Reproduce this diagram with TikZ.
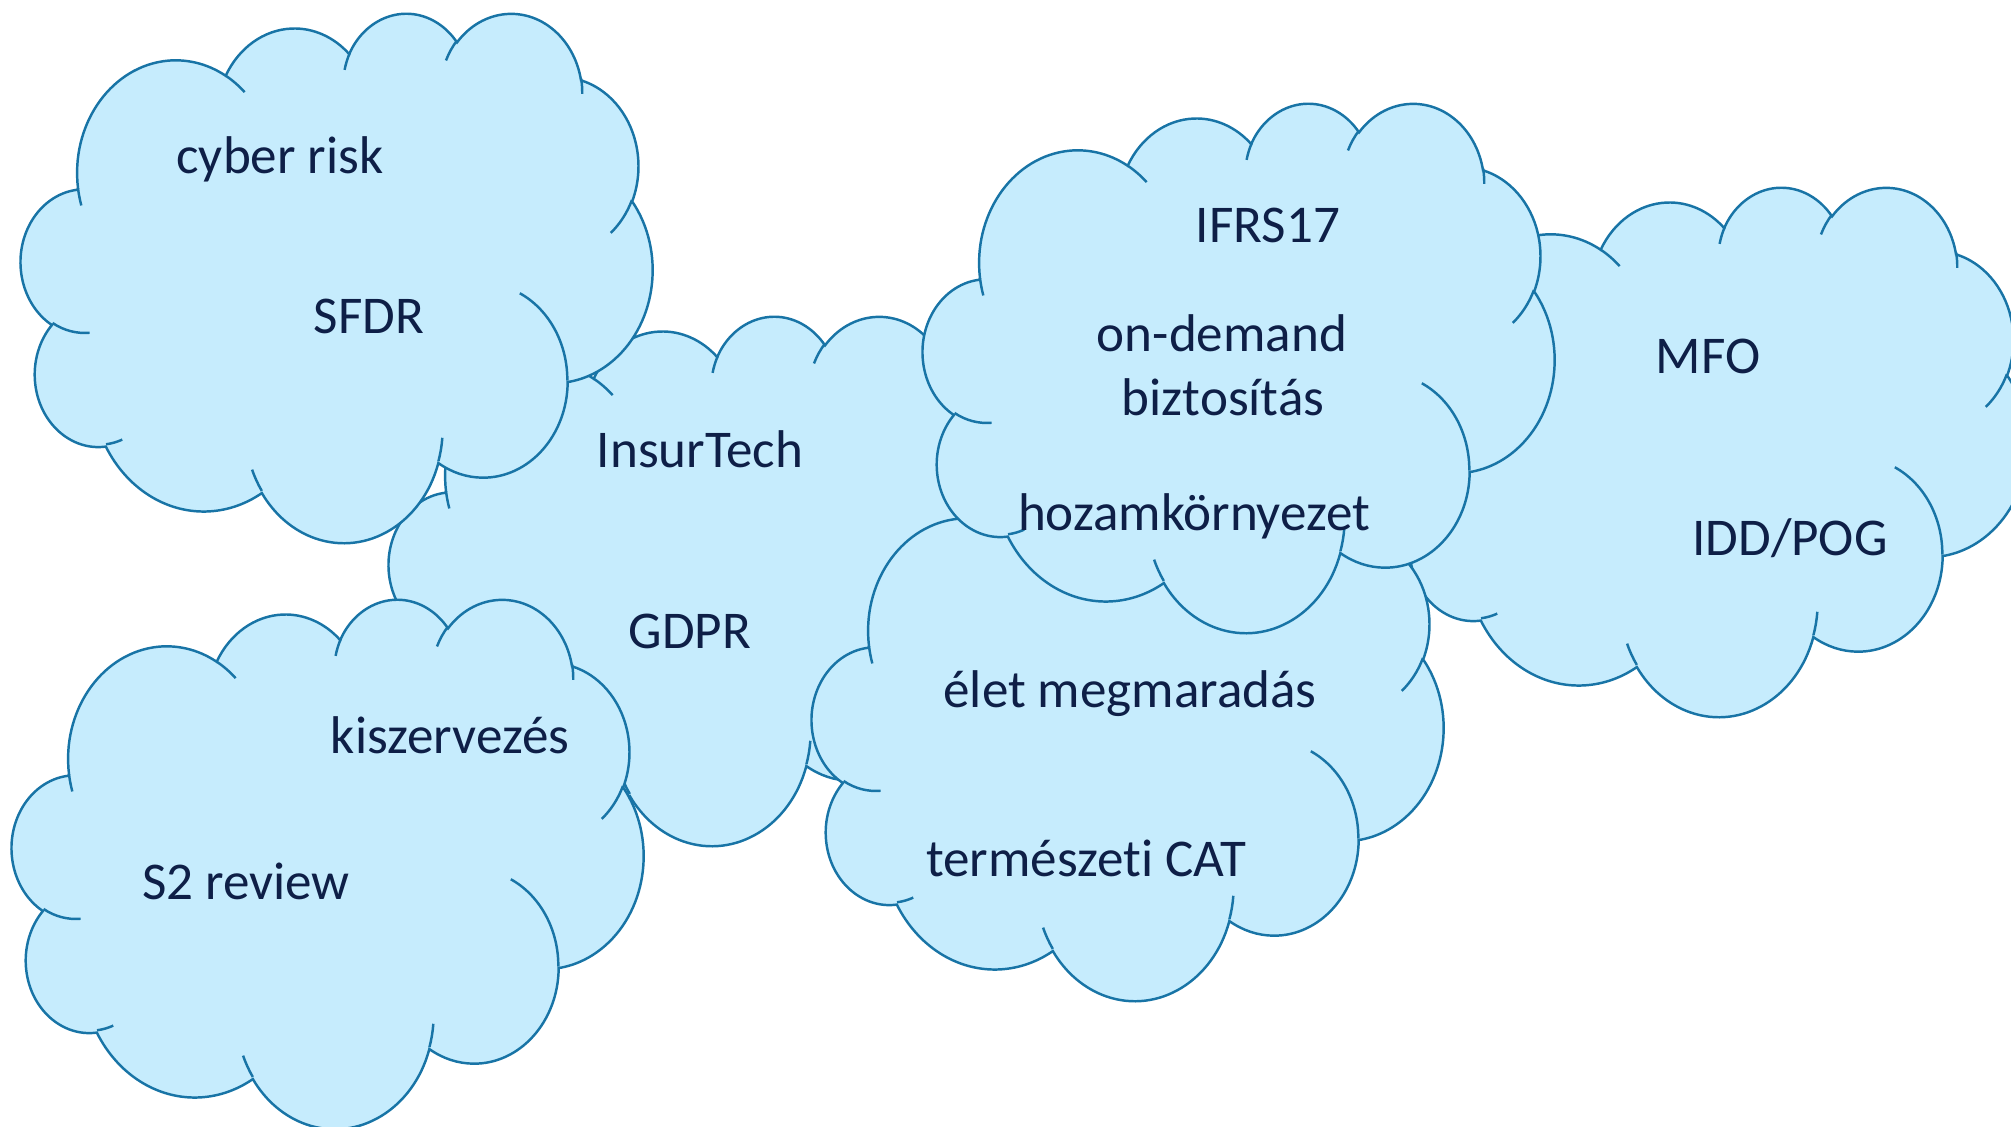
\documentclass[tikz,border=0pt]{standalone}
\usepackage{fontspec}
\setmainfont{Carlito}[Ligatures=NoCommon]
\definecolor{cloudfillc}{HTML}{C6ECFD}
\definecolor{cloudlinec}{HTML}{1874A6}
\definecolor{cloudtextc}{HTML}{0E1F47}
\makeatletter
\gdef\cloudoutline{}
\gdef\cloudinner{}
\newcommand\cloudarc[5]{%
  \pgfmathsetmacro\ca@s{atan2((#2)*sin(#4),(#3)*cos(#4))}%
  \pgfmathsetmacro\ca@e{atan2((#2)*sin((#4)+(#5)),(#3)*cos((#4)+(#5)))}%
  \pgfmathsetmacro\ca@d{mod(\ca@e-\ca@s+720,360)}%
  \xdef#1{#1 arc[x radius=#2, y radius=#3, start angle=\ca@s, delta angle=\ca@d]}%
}
\newcommand\cloudmove[2]{\xdef\cloudinner{\cloudinner (#1,#2)}}
\makeatother
% outline arcs (PowerPoint cloud, 43.2 x 43.2 space)
\cloudarc\cloudoutline{6.753}{9.190}{-190.4875}{123.7805}
\cloudarc\cloudoutline{5.333}{7.267}{-144.1024}{89.9452}
\cloudarc\cloudoutline{4.365}{5.945}{-145.8079}{99.7230}
\cloudarc\cloudoutline{4.857}{6.595}{-130.9861}{117.2417}
\cloudarc\cloudoutline{5.333}{7.273}{-78.7089}{109.0269}
\cloudarc\cloudoutline{6.775}{9.220}{-46.2673}{130.2690}
\cloudarc\cloudoutline{5.785}{7.867}{0.6250}{114.0333}
\cloudarc\cloudoutline{6.752}{9.215}{22.4516}{115.1726}
\cloudarc\cloudoutline{7.720}{10.543}{66.2426}{75.7110}
\cloudarc\cloudoutline{4.360}{5.918}{-274.9421}{146.7356}
\cloudarc\cloudoutline{4.345}{5.945}{-246.8285}{152.5189}
% inner arcs
\cloudmove{4.693}{26.177}\cloudarc\cloudinner{4.345}{5.945}{86.7420}{26.4295}
\cloudmove{6.928}{34.899}\cloudarc\cloudinner{4.360}{5.918}{73.6105}{11.4475}
\cloudmove{16.478}{39.090}\cloudarc\cloudinner{6.752}{9.215}{137.6242}{14.0811}
\cloudmove{28.827}{34.751}\cloudarc\cloudinner{6.752}{9.215}{6.4533}{15.9984}
\cloudmove{34.129}{22.954}\cloudarc\cloudinner{5.785}{7.867}{-70.2924}{70.9174}
\cloudmove{41.798}{15.354}\cloudarc\cloudinner{5.333}{7.273}{30.3180}{27.7515}
\cloudmove{38.324}{5.426}\cloudarc\cloudinner{4.857}{6.595}{-13.7443}{14.8589}
\cloudmove{29.078}{3.952}\cloudarc\cloudinner{4.857}{6.595}{-149.1815}{18.1954}
\cloudmove{22.141}{4.720}\cloudarc\cloudinner{4.365}{5.945}{-163.4943}{17.6864}
\cloudmove{14.000}{5.192}\cloudarc\cloudinner{6.753}{9.190}{-66.7070}{12.3194}
\cloudmove{4.127}{15.789}\cloudarc\cloudinner{6.753}{9.190}{157.6544}{11.8582}
\tikzset{
  cloudbody/.style={fill=cloudfillc, draw=cloudlinec, line width=0.7pt},
  cloudline/.style={draw=cloudlinec, line width=0.7pt},
  lbl/.style={anchor=base, inner sep=0pt, text=cloudtextc, font=\fontsize{15.1}{18}\selectfont},
}
\newcommand\ppcloud[2]{%
  \begin{scope}[shift={(#1,#2)}, x=1cm, y=1cm, xscale=0.146065, yscale=-0.122454]
    \path[cloudbody] (3.9,14.37) \cloudoutline -- cycle;
    \path[cloudline] \cloudinner;
  \end{scope}}
\begin{document}
\begin{tikzpicture}[x=0.01cm, y=-0.01cm]
\useasboundingbox (0,0) rectangle (2011,1126);
\clip (0,0) rectangle (2011,1126);
\ppcloud{389}{315}
\ppcloud{1396}{186}
\ppcloud{812}{470}
\ppcloud{21}{12}
\ppcloud{12}{598}
\ppcloud{923}{102}
\node[lbl] (t1) at (280,173) {cyber risk};
\node[lbl] (t2) at (369,333) {SFDR};
\node[lbl] (t3) at (700,467) {InsurTech};
\node[lbl] (t4) at (690,648) {GDPR};
\node[lbl] (t5) at (450,753) {kiszervezés};
\node[lbl] (t6) at (246,899) {S2 review};
\node[lbl] (t7) at (1268,242) {IFRS17};
\node[lbl] (t8) at (1222,351) {on-demand};
\node[lbl] (t9) at (1223,415) {biztosítás};
\node[lbl] (t10) at (1194,530) {hozamkörnyezet};
\node[lbl] (t11) at (1130,707) {élet megmaradás};
\node[lbl] (t12) at (1086,876) {természeti CAT};
\node[lbl] (t13) at (1708,373) {MFO};
\node[lbl] (t14) at (1790,555) {IDD/POG};
\end{tikzpicture}
\end{document}
